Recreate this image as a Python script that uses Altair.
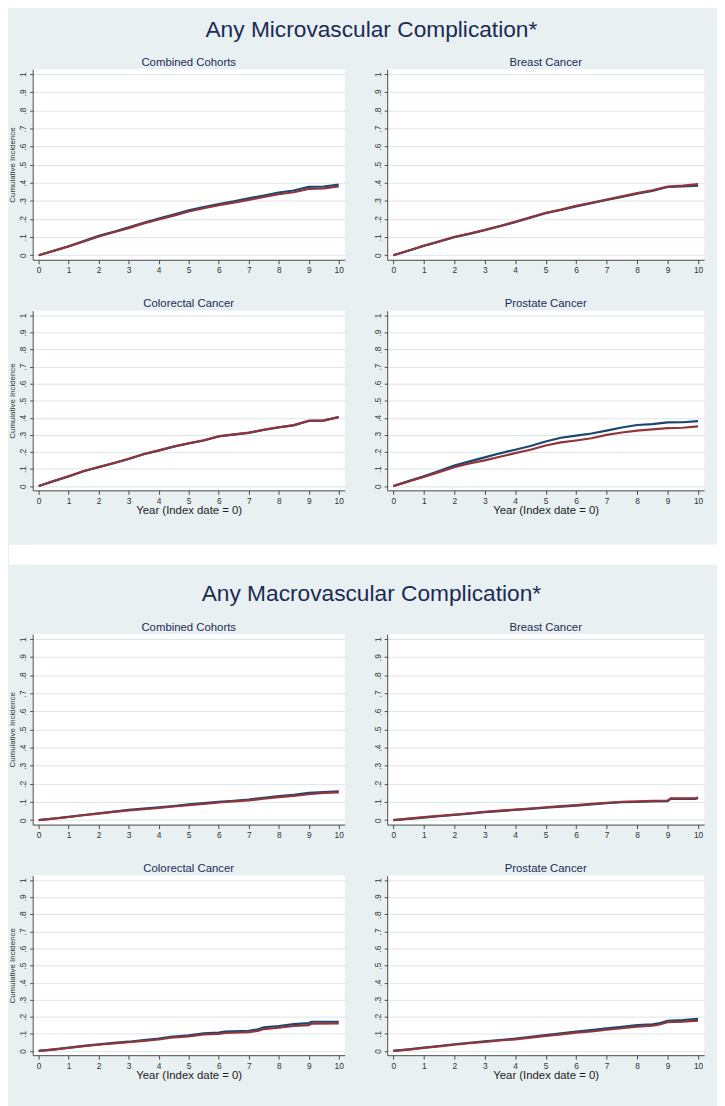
import altair as alt
import pandas as pd

# ---------------- data ----------------
SECTION_TITLES = ["Any Microvascular Complication*", "Any Macrovascular Complication*"]
PANEL_TITLES = ["Combined Cohorts", "Breast Cancer", "Colorectal Cancer", "Prostate Cancer"]
GROUPS = ["Group 1", "Group 2"]
X_TICKS = [0, 1, 2, 3, 4, 5, 6, 7, 8, 9, 10]
Y_TICKS = [0, 0.1, 0.2, 0.3, 0.4, 0.5, 0.6, 0.7, 0.8, 0.9, 1.0]

YEARS = [0, 0.5, 1, 1.5, 2, 2.5, 3, 3.5, 4, 4.5, 5, 5.5, 6, 6.5, 7, 7.5, 8, 8.5, 9, 9.5, 10]

# Microvascular
MICRO_COMB_BLUE = [0, 0.025, 0.05, 0.078, 0.107, 0.13, 0.154, 0.18, 0.203, 0.225, 0.248, 0.266, 0.283, 0.298, 0.315, 0.33, 0.347, 0.358, 0.378, 0.38, 0.39]
MICRO_COMB_RED = [0, 0.024, 0.049, 0.076, 0.104, 0.127, 0.15, 0.176, 0.198, 0.219, 0.242, 0.26, 0.277, 0.291, 0.306, 0.322, 0.337, 0.348, 0.366, 0.37, 0.38]
MICRO_BREAST_BLUE = [0, 0.025, 0.052, 0.075, 0.1, 0.118, 0.138, 0.16, 0.183, 0.208, 0.232, 0.25, 0.27, 0.288, 0.305, 0.322, 0.34, 0.356, 0.377, 0.38, 0.385]
MICRO_BREAST_RED = [0, 0.026, 0.053, 0.077, 0.101, 0.12, 0.14, 0.162, 0.185, 0.21, 0.235, 0.252, 0.273, 0.29, 0.308, 0.325, 0.343, 0.359, 0.38, 0.385, 0.393]
MICRO_COLO_BLUE = [0, 0.029, 0.057, 0.087, 0.111, 0.134, 0.159, 0.187, 0.208, 0.231, 0.25, 0.267, 0.291, 0.302, 0.312, 0.329, 0.344, 0.356, 0.382, 0.384, 0.404]
MICRO_COLO_RED = [0, 0.03, 0.058, 0.088, 0.112, 0.135, 0.16, 0.188, 0.209, 0.232, 0.251, 0.268, 0.292, 0.303, 0.313, 0.33, 0.345, 0.357, 0.383, 0.385, 0.405]
MICRO_PROS_BLUE = [0, 0.029, 0.058, 0.088, 0.12, 0.145, 0.168, 0.192, 0.213, 0.235, 0.261, 0.283, 0.296, 0.308, 0.325, 0.343, 0.358, 0.363, 0.373, 0.374, 0.381]
MICRO_PROS_RED = [0, 0.027, 0.054, 0.082, 0.11, 0.133, 0.151, 0.172, 0.193, 0.213, 0.238, 0.256, 0.267, 0.28, 0.3, 0.314, 0.325, 0.332, 0.34, 0.342, 0.35]

# Macrovascular
MACRO_COMB_BLUE = [0, 0.009, 0.018, 0.028, 0.038, 0.047, 0.056, 0.063, 0.07, 0.078, 0.087, 0.094, 0.101, 0.107, 0.114, 0.123, 0.132, 0.14, 0.15, 0.155, 0.159]
MACRO_COMB_RED = [0, 0.008, 0.017, 0.027, 0.036, 0.045, 0.053, 0.06, 0.067, 0.075, 0.083, 0.09, 0.097, 0.103, 0.109, 0.118, 0.127, 0.134, 0.143, 0.15, 0.153]

MACRO_BREAST_YEARS = [0, 0.5, 1, 1.5, 2, 2.5, 3, 3.5, 4, 4.5, 5, 5.5, 6, 6.5, 7, 7.5, 8, 8.5, 9, 9.1, 9.5, 9.9, 10]
MACRO_BREAST_BLUE = [0, 0.007, 0.014, 0.021, 0.028, 0.036, 0.044, 0.05, 0.056, 0.062, 0.068, 0.074, 0.08, 0.087, 0.093, 0.099, 0.1, 0.103, 0.105, 0.117, 0.117, 0.117, 0.121]
MACRO_BREAST_RED = [0, 0.008, 0.016, 0.023, 0.03, 0.038, 0.046, 0.052, 0.058, 0.064, 0.071, 0.077, 0.083, 0.09, 0.096, 0.101, 0.103, 0.106, 0.108, 0.12, 0.12, 0.12, 0.125]

MACRO_COLO_YEARS = [0, 0.5, 1, 1.5, 2, 2.5, 3, 3.5, 4, 4.4, 5, 5.5, 6, 6.2, 7, 7.3, 7.5, 8, 8.5, 9, 9.1, 10]
MACRO_COLO_BLUE = [0, 0.009, 0.019, 0.03, 0.039, 0.047, 0.054, 0.063, 0.072, 0.082, 0.091, 0.103, 0.107, 0.113, 0.118, 0.126, 0.138, 0.146, 0.157, 0.163, 0.171, 0.171]
MACRO_COLO_RED = [0, 0.008, 0.017, 0.028, 0.036, 0.044, 0.051, 0.059, 0.067, 0.077, 0.085, 0.096, 0.1, 0.105, 0.11, 0.117, 0.128, 0.136, 0.146, 0.151, 0.16, 0.161]

MACRO_PROS_YEARS = [0, 0.5, 1, 1.5, 2, 2.5, 3, 3.5, 4, 4.5, 5, 5.5, 6, 6.5, 7, 7.5, 8, 8.5, 8.7, 9, 9.5, 10]
MACRO_PROS_BLUE = [0, 0.009, 0.019, 0.029, 0.039, 0.048, 0.056, 0.064, 0.072, 0.083, 0.093, 0.103, 0.113, 0.122, 0.132, 0.141, 0.151, 0.156, 0.161, 0.177, 0.181, 0.188]
MACRO_PROS_RED = [0, 0.008, 0.017, 0.027, 0.036, 0.045, 0.053, 0.061, 0.068, 0.078, 0.088, 0.097, 0.107, 0.114, 0.124, 0.133, 0.142, 0.148, 0.153, 0.168, 0.172, 0.178]

# ---------------- style ----------------
BG = "#e8f0f2"
GRID = "#dbe6e9"
TITLE_COL = "#1c2b55"
BLUE = "#1a476f"
RED = "#90353b"
AXIS_COL = "#4a4a4a"
FONT = "Liberation Sans"

LEFT_W, RIGHT_W = 316, 321
TOP_H, BOT_H = 193, 182
ORIGIN = 24          # left extent of the first column's axes
TOTAL_W = 717


def panel(xb, yb, xr, yr, title, left, bottom, width, height):
    rows = []
    for g, xs, ys in ((GROUPS[0], xb, yb), (GROUPS[1], xr, yr)):
        for i, (x, y) in enumerate(zip(xs, ys)):
            rows.append({"group": g, "year": x, "ci": y, "idx": i})
    df = pd.DataFrame(rows)

    xaxis_kw = dict(values=X_TICKS, grid=False, tickSize=4, labelPadding=2,
                    labelFontSize=8.5, labelAngle=0, titleFontSize=11.5,
                    titlePadding=0, titleColor="#222222")
    xaxis_kw["title"] = "Year (Index date = 0)" if bottom else None
    yaxis_kw = dict(values=Y_TICKS, grid=True, gridColor=GRID, gridWidth=1,
                    tickSize=3, labelPadding=2, labelFontSize=8.5,
                    labelAngle=270, labelAlign="center", labelBaseline="bottom",
                    labelExpr="datum.value == 0 ? '0' : datum.value > 0.999 ? '1' : '.' + round(datum.value * 10)",
                    titleFontSize=8, titlePadding=2, titleColor="#333333")
    yaxis_kw["title"] = "Cumulative Incidence" if left else None

    x = alt.X("year:Q", scale=alt.Scale(domain=[-0.2, 10.2], nice=False, zero=False),
              axis=alt.Axis(**xaxis_kw))
    y = alt.Y("ci:Q", scale=alt.Scale(domain=[-0.025, 1.028], nice=False, zero=False),
              axis=alt.Axis(**yaxis_kw))

    base = alt.Chart(df)
    blue = base.transform_filter(alt.datum.group == GROUPS[0]).mark_line(
        color=BLUE, strokeWidth=2.2).encode(x=x, y=y, order="idx:Q")
    red = base.transform_filter(alt.datum.group == GROUPS[1]).mark_line(
        color=RED, strokeWidth=2.2).encode(x=x, y=y, order="idx:Q")
    return alt.layer(blue, red).properties(
        width=width, height=height,
        title=alt.TitleParams(title, fontSize=11.5, font=FONT, fontWeight="normal",
                              color=TITLE_COL, anchor="middle", frame="group", offset=1),
    )


def section(title, data):
    (cb, cr, cx), (bb, br, bx), (ob, orr, ox), (pb, pr, px) = data
    p1 = panel(cx, cb, cx, cr, PANEL_TITLES[0], True, False, LEFT_W, TOP_H)
    p2 = panel(bx, bb, bx, br, PANEL_TITLES[1], False, False, RIGHT_W, TOP_H)
    p3 = panel(ox, ob, ox, orr, PANEL_TITLES[2], True, True, LEFT_W, BOT_H)
    p4 = panel(px, pb, px, pr, PANEL_TITLES[3], False, True, RIGHT_W, BOT_H)
    row1 = alt.hconcat(p1, p2, spacing=28)
    row2 = alt.hconcat(p3, p4, spacing=28)
    return alt.vconcat(row1, row2, spacing=23.5).properties(
        title=alt.TitleParams(title, fontSize=23, font=FONT, fontWeight="normal",
                              color=TITLE_COL, anchor="middle",
                              offset=3.5, dy=-12, dx=15)
    )


micro = section(SECTION_TITLES[0], [
    (MICRO_COMB_BLUE, MICRO_COMB_RED, YEARS),
    (MICRO_BREAST_BLUE, MICRO_BREAST_RED, YEARS),
    (MICRO_COLO_BLUE, MICRO_COLO_RED, YEARS),
    (MICRO_PROS_BLUE, MICRO_PROS_RED, YEARS),
])
macro = section(SECTION_TITLES[1], [
    (MACRO_COMB_BLUE, MACRO_COMB_RED, YEARS),
    (MACRO_BREAST_BLUE, MACRO_BREAST_RED, MACRO_BREAST_YEARS),
    (MACRO_COLO_BLUE, MACRO_COLO_RED, MACRO_COLO_YEARS),
    (MACRO_PROS_BLUE, MACRO_PROS_RED, MACRO_PROS_YEARS),
])

# white separator band between the two figures (decoration only)
band = alt.Chart(pd.DataFrame({"v": [0]})).mark_rect(color="white").encode(
    x=alt.value(-ORIGIN), x2=alt.value(TOTAL_W - ORIGIN), y=alt.value(0), y2=alt.value(20)
).properties(width=TOTAL_W - ORIGIN, height=20)

chart = alt.concat(
    alt.concat(micro, band, columns=1, spacing=28.5, align="none"),
    macro,
    columns=1,
    spacing=19,
    align="none",
).properties(
    background=BG,
    padding={"left": 0, "top": 4, "right": 0, "bottom": 20},
).configure_view(
    fill="white", stroke=None
).configure_axis(
    domainColor=AXIS_COL, tickColor=AXIS_COL, labelColor="#333333",
    labelFont=FONT, titleFont=FONT, titleFontWeight="normal",
).configure_title(font=FONT)

chart.save("out.html", embed_options={"renderer": "svg", "actions": False})
